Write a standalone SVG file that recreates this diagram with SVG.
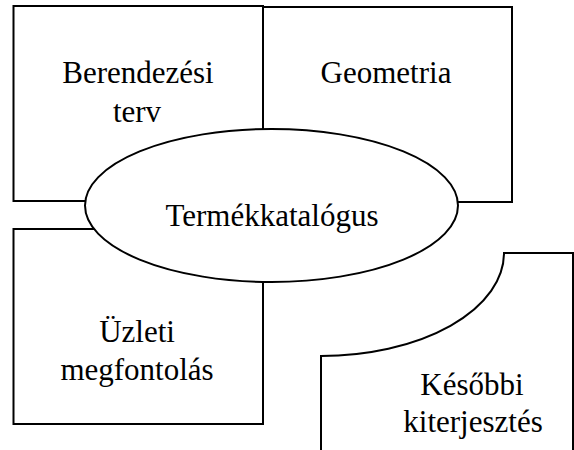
<svg xmlns="http://www.w3.org/2000/svg" width="574" height="450" viewBox="0 0 574 450">
<style>
.s{fill:#fff;stroke:#000;stroke-width:2}
.t{font-family:"Liberation Serif","Times New Roman",serif;font-size:31px;fill:#000;text-anchor:middle}
</style>
<rect width="574" height="450" fill="#fff"/>
<g id="berendezesi">
<rect class="s" x="13.5" y="6" width="249.5" height="195"/>
<text class="t" x="138" y="83">Berendezési</text>
<text class="t" x="137" y="122">terv</text>
</g>
<g id="geometria">
<rect class="s" x="263" y="7" width="249" height="195"/>
<text class="t" x="386" y="83">Geometria</text>
</g>
<g id="uzleti">
<rect class="s" x="13.5" y="229" width="249.5" height="195"/>
<text class="t" x="137" y="342">Üzleti</text>
<text class="t" x="137" y="380">megfontolás</text>
</g>
<g id="termekkatalogus">
<ellipse class="s" cx="271.5" cy="205.5" rx="186.5" ry="76.5"/>
<text class="t" x="272" y="226">Termékkatalógus</text>
</g>
<g id="kesobbi">
<path class="s" d="M321,451 L321,356 A183,103 0 0 0 504,253 L573,253 L573,451"/>
<text class="t" x="472" y="395">Későbbi</text>
<text class="t" x="473" y="432">kiterjesztés</text>
</g>
<g id="connectors"></g>
</svg>
